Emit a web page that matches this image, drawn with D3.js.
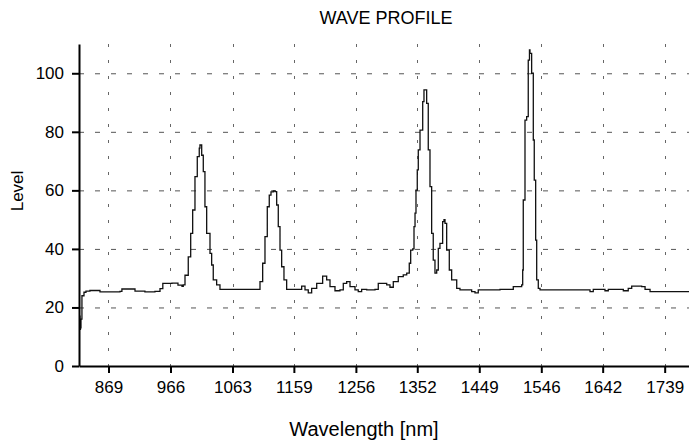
<!DOCTYPE html>
<html>
<head>
<meta charset="utf-8">
<script src="https://cdn.jsdelivr.net/npm/d3@7"></script>
<style>
  html, body { margin: 0; padding: 0; background: #fff; }
  svg { display: block; }
  text { font-family: "Liberation Sans", Arial, sans-serif; fill: #000; }
</style>
</head>
<body>
<svg id="chart" width="689" height="444"></svg>
<script>
// Spectrum trace: wavelength (nm) and level
const wavelength = [
  823.6, 824.4, 825.2, 826, 827.5, 830.7, 833.8, 840, 855.7, 887, 890, 905.8, 910.5, 926, 941.7,
  949.6, 954, 968.3, 977.7, 984, 986, 988.7, 993.8, 997.6, 1000.7, 1004.3, 1007.9, 1011, 1012.1,
  1014.8, 1017.3, 1019.9, 1022.6, 1027.8, 1030.4, 1032.9, 1038.2, 1043.4, 1074.7, 1103.3,
  1106, 1110.2, 1113.8, 1117.4, 1120.5, 1123.2, 1126.8, 1129.4, 1132.1, 1134.6, 1137.3, 1139.9,
  1143.5, 1147.7, 1168.5, 1171.2, 1176.4, 1181.5, 1186.8, 1194.7, 1204, 1210.3, 1215.5, 1223.3,
  1231.1, 1236.3, 1241.6, 1246.8, 1254.6, 1259.7, 1265, 1272.9, 1285.9, 1291, 1304.2, 1309.3,
  1314.5, 1322.3, 1330.1, 1335.5, 1339.5, 1341.7, 1344.9, 1346.9, 1348.5, 1350, 1352, 1353.6,
  1356.3, 1360.5, 1362.5, 1366.7, 1369.2, 1371.9, 1374.5, 1377, 1379.7, 1382.4, 1384.9, 1387.5,
  1391.7, 1393.8, 1395.4, 1398, 1402.1, 1405.8, 1413.7, 1418.8, 1437.1, 1442.3, 1447.4, 1481.4,
  1502.2, 1515.3, 1516.9, 1517.8, 1520.5, 1523.1, 1525.6, 1527.5, 1528.3, 1530.9, 1533.5, 1535,
  1537.2, 1538.8, 1541.3, 1544, 1617, 1622.2, 1627.3, 1645.6, 1650.8, 1674.3, 1682, 1687.4,
  1703, 1708.3, 1716.1, 1777
];
const level = [
  17, 12.5, 13, 16, 24, 25.2, 25.6, 25.8, 25.3, 25.5, 26.3, 26.3, 25.6, 25.3, 25.5,
  26.4, 28.2, 28.3, 27.6, 27.2, 27.7, 31, 37.3, 45.3, 53.3, 64.7, 71.5, 74.4, 75.5,
  72, 66.4, 54.4, 45.3, 38.5, 34.5, 29.4, 27.7, 26.2, 26.2, 26.2,
  28.8, 35.1, 44.2, 54.4, 58.4, 59.5, 59.8, 59.6, 55, 47.6, 39.6, 33.9,
  29.4, 26.2, 26.2, 27.3, 26, 25, 26.5, 28.2, 30.7, 29.4, 27.1, 25.7,
  26, 28.2, 28.8, 27.1, 26, 25.4, 26.2, 26, 26.2, 28.2, 27.7, 26.9,
  28.8, 30.5, 31.1, 31.7, 35.1, 39.6, 40, 47.6, 52.2, 60.1, 67, 73.8,
  80.6, 90.3, 94.3, 89.7, 73.8, 61.3, 45.3, 36.2, 31.7, 32.8, 40.2, 41.9,
  49.3, 50, 48.7, 39.6, 32.8, 29.4, 26.5, 26, 25.4, 25, 26, 26.2,
  27.1, 27.7, 32.8, 56.7, 84, 85.2, 104.5, 108, 106.8, 100, 77.2, 63.5,
  43, 29.4, 26.5, 26, 26, 25.4, 26.2, 25.7, 26.2, 25.7, 26.5, 27.3,
  27.1, 26.2, 25.4, 25.4
];

const xTicks = [869, 966, 1063, 1159, 1256, 1352, 1449, 1546, 1642, 1739];
const yTicks = [0, 20, 40, 60, 80, 100];

const svg = d3.select("#chart");
const plotL = 79, plotR = 690, plotT = 44, plotB = 366;

const x = d3.scaleLinear().domain([822.9, 1778.6]).range([plotL, plotR]);
const y = d3.scaleLinear().domain([0, 110]).range([plotB, plotT]);

// Grid
const grid = svg.append("g");
grid.selectAll("line.h").data(yTicks.filter(d => d > 0)).join("line")
  .attr("x1", plotL).attr("x2", plotR)
  .attr("y1", d => y(d) + 0.5).attr("y2", d => y(d) + 0.5)
  .attr("stroke", "#555").attr("stroke-width", 1)
  .attr("stroke-dasharray", "5,11");
grid.selectAll("line.v").data(xTicks).join("line")
  .attr("x1", d => Math.round(x(d)) + 0.5).attr("x2", d => Math.round(x(d)) + 0.5)
  .attr("y1", plotT).attr("y2", plotB)
  .attr("stroke", "#666").attr("stroke-width", 1)
  .attr("stroke-dasharray", "3,13");

// Trace
const pts = wavelength.map((w, i) => [w, level[i]]);
const line = d3.line().x(d => x(d[0])).y(d => y(d[1])).curve(d3.curveStepAfter);
svg.append("path").datum(pts)
  .attr("d", line)
  .attr("fill", "none")
  .attr("stroke", "#111")
  .attr("stroke-width", 1.3);

// Axes
const xAxis = d3.axisBottom(x).tickValues(xTicks).tickFormat(d3.format("d"))
  .tickSize(7).tickSizeOuter(0).tickPadding(8);
const gx = svg.append("g").attr("transform", `translate(0,${plotB})`).call(xAxis);
gx.select(".domain").attr("stroke", "#000").attr("stroke-width", 2);
gx.selectAll(".tick line").attr("stroke", "#000").attr("stroke-width", 2);
gx.selectAll(".tick text").style("font-size", "17px").attr("fill", "#000");

const yAxis = d3.axisLeft(y).tickValues(yTicks).tickFormat(d3.format("d"))
  .tickSize(7).tickSizeOuter(0).tickPadding(8);
const gy = svg.append("g").attr("transform", `translate(${plotL},0)`).call(yAxis);
gy.select(".domain").attr("stroke", "#000").attr("stroke-width", 2);
gy.selectAll(".tick line").attr("stroke", "#000").attr("stroke-width", 2);
gy.selectAll(".tick text").style("font-size", "17px").attr("fill", "#000");

// Titles
svg.append("text").attr("x", 386).attr("y", 24).attr("text-anchor", "middle")
  .style("font-size", "18px").text("WAVE PROFILE");
svg.append("text").attr("x", 364).attr("y", 436).attr("text-anchor", "middle")
  .style("font-size", "20px").text("Wavelength [nm]");
svg.append("text").attr("transform", "translate(23,191) rotate(-90)")
  .attr("text-anchor", "middle").style("font-size", "17px").text("Level");
</script>
</body>
</html>
